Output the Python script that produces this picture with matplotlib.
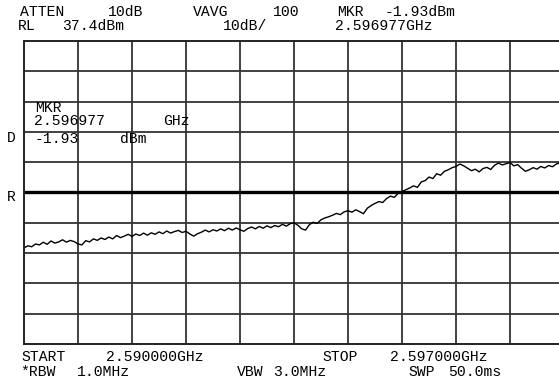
import numpy as np
import matplotlib
matplotlib.use("Agg")
import matplotlib.pyplot as plt

# sweep settings
f_start = 2.590   # GHz
f_stop = 2.597    # GHz
ref_level = 37.4  # dBm
db_per_div = 10

# trace, dBm, 141 points from start to stop
trace_db = [
    -30.9, -30.2, -30.5, -29.6, -29.9, -29.0, -29.7, -28.6, -29.3, -28.9,
    -28.2, -29.0, -28.4, -28.8, -29.6, -29.9, -28.5, -28.9, -27.9, -28.4,
    -27.6, -28.1, -27.3, -27.9, -26.8, -27.5, -27.0, -26.4, -27.1, -26.3,
    -26.8, -26.0, -26.7, -25.9, -26.4, -25.6, -26.2, -25.3, -26.0, -25.5,
    -25.1, -25.8, -25.4, -26.3, -27.0, -26.2, -25.7, -25.0, -25.6, -24.9,
    -25.3, -24.6, -25.2, -24.4, -25.0, -24.3, -24.9, -25.4, -24.5, -24.0,
    -24.6, -23.8, -24.4, -23.6, -24.2, -23.5, -23.9, -23.1, -23.7, -22.9,
    -22.6, -23.4, -24.6, -25.0, -23.2, -22.4, -22.8, -21.6, -21.0, -20.6,
    -20.1, -19.5, -19.9, -19.0, -18.6, -19.1, -18.3, -18.9, -19.6, -17.8,
    -16.9, -16.2, -15.6, -15.9, -14.6, -13.8, -14.2, -12.9, -12.3, -11.7,
    -11.1, -10.4, -10.9, -9.1, -8.7, -7.5, -8.0, -6.4, -6.9, -5.6,
    -5.1, -4.4, -4.0, -3.2, -3.8, -4.6, -5.4, -4.9, -5.8, -4.7,
    -4.3, -5.0, -3.6, -2.9, -3.5, -3.1, -2.7, -3.8, -3.4, -4.6,
    -5.6, -5.1, -4.4, -4.9, -4.0, -4.5, -3.7, -4.1, -3.2, -2.8,
    -1.9,
]
freq = np.linspace(f_start, f_stop, len(trace_db))

W, H = 559, 385
fig = plt.figure(figsize=(W / 100, H / 100), dpi=100)
fig.patch.set_facecolor("white")

# graticule area in pixels (right edge runs past the picture)
left, right, top, bottom = 24, 564, 41, 344
ax = fig.add_axes([left / W, 1 - bottom / H, (right - left) / W, (bottom - top) / H])
y_bot = ref_level - 10 * db_per_div
ax.set_xlim(f_start, f_stop)
ax.set_ylim(y_bot, ref_level)
ax.set_xticks([])
ax.set_yticks([])
for s in ax.spines.values():
    s.set_color("#222222")
    s.set_linewidth(1.4)

grid_c = "#333333"
for i in range(1, 10):
    ax.axvline(f_start + i * (f_stop - f_start) / 10, color=grid_c, lw=1.3)
    ax.axhline(ref_level - i * db_per_div, color=grid_c, lw=1.3)
# reference line
ax.axhline(ref_level - 5 * db_per_div, color="black", lw=2.4)

ax.plot(freq, trace_db, color="black", lw=1.0)

mono = "Liberation Mono"
fs = 10.6


def txt(x, y, s):
    fig.text(x / W, 1 - y / H, s, family=mono, fontsize=fs, ha="left", va="center")


# header
txt(20, 12, "ATTEN")
txt(108, 12, "10dB")
txt(193, 12, "VAVG")
txt(273, 12, "100")
txt(337, 12, "MKR")
txt(385, 12, "-1.93dBm")
txt(18, 26, "RL")
txt(62, 26, "37.4dBm")
txt(223, 26, "10dB/")
txt(335, 26, "2.596977GHz")

# marker readout inside graticule
txt(35, 108, "MKR")
txt(34, 121, "2.596977")
txt(163, 121, "GHz")
txt(35, 139, "-1.93")
txt(120, 139, "dBm")
txt(7, 138, "D")
txt(7, 197, "R")

# footer
txt(21, 357, "START")
txt(106, 357, "2.590000GHz")
txt(322, 357, "STOP")
txt(390, 357, "2.597000GHz")
txt(20, 372, "*RBW")
txt(77, 372, "1.0MHz")
txt(237, 372, "VBW")
txt(273, 372, "3.0MHz")
txt(408, 372, "SWP")
txt(448, 372, "50.0ms")

fig.savefig("out.png", dpi=100, facecolor="white")
